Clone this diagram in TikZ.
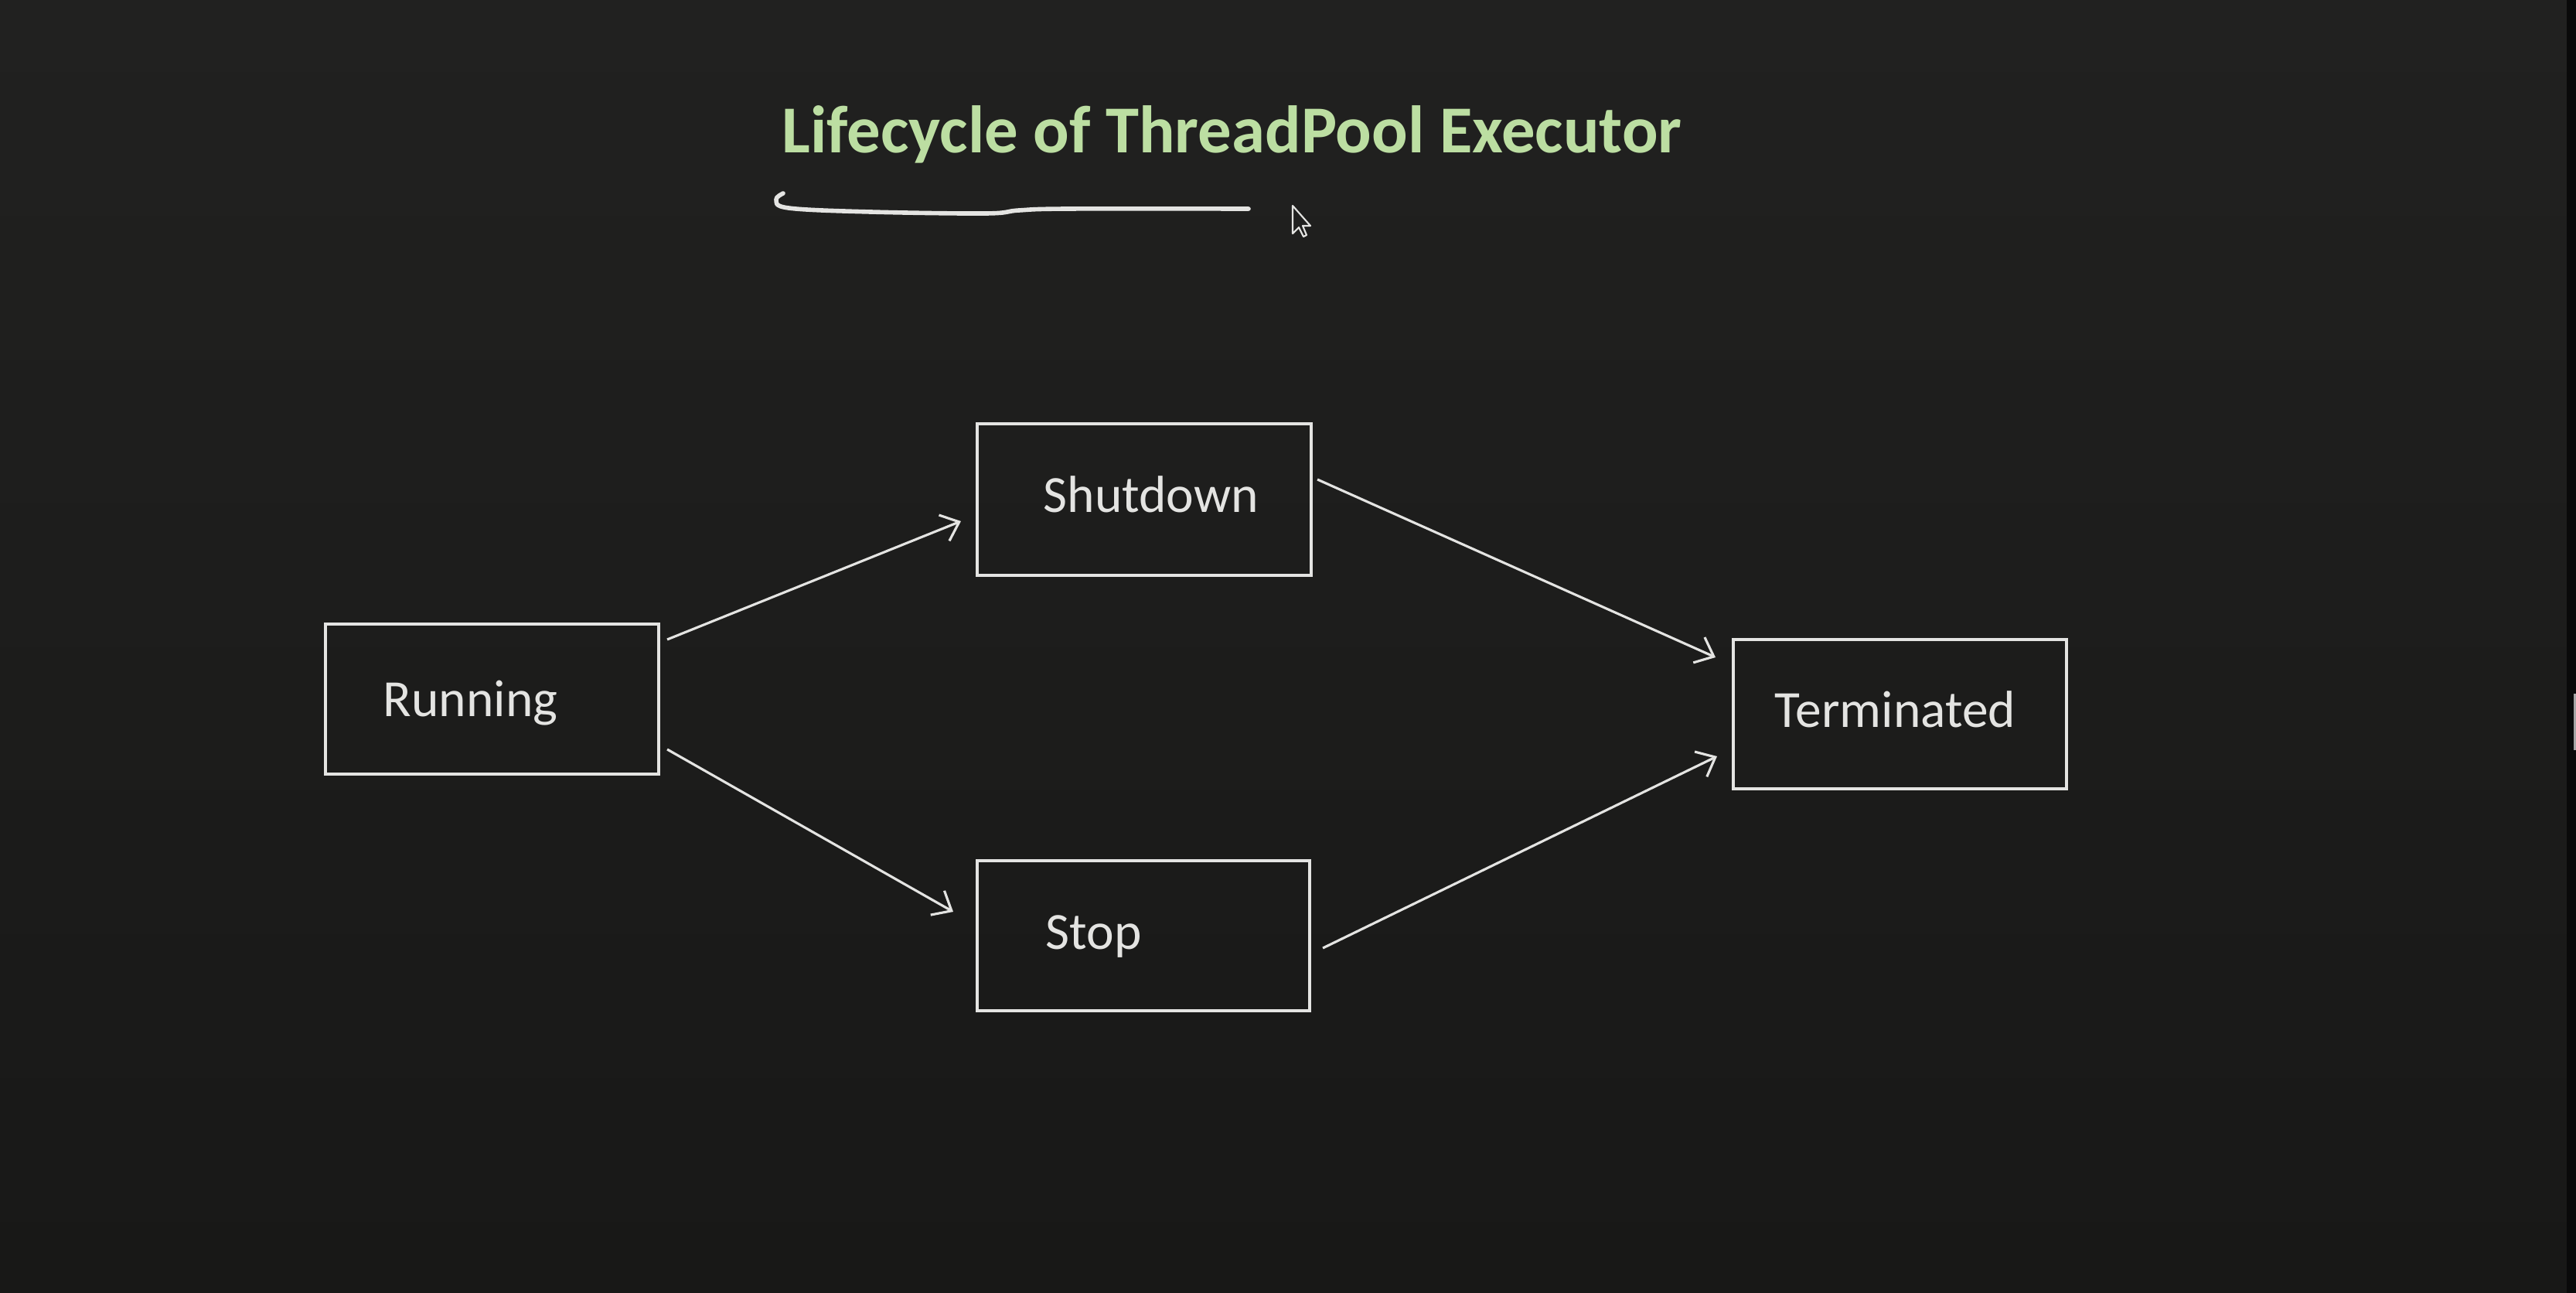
\documentclass[tikz,border=0pt]{standalone}
\usepackage{fontspec}
\setmainfont{Carlito}
\usetikzlibrary{arrows.meta}
\definecolor{bgtop}{RGB}{33,33,32}
\definecolor{bgbot}{RGB}{24,24,23}
\definecolor{ink}{RGB}{228,228,226}
\definecolor{titlegreen}{RGB}{188,222,162}
\tikzset{
  statebox/.style={draw=ink, line width=1.15pt, minimum width=4.31cm, minimum height=1.94cm, inner sep=0pt, fill=none},
  statelabel/.style={text=ink, font=\fontsize{19.2}{22}\selectfont, inner sep=0pt, anchor=base west},
  flow/.style={draw=ink, line width=0.9pt, -{Straight Barb[length=2.1mm,width=3.6mm,line width=0.9pt]}},
}
\begin{document}
\begin{tikzpicture}
\shade[top color=bgtop, bottom color=bgbot] (0,0) rectangle (33.32,-16.72);
\useasboundingbox (0,0) rectangle (33.32,-16.72);
% scrollbar hint at right edge
\fill[black!70!bgtop] (33.20,0) rectangle (33.32,-16.72);
\fill[gray!70] (33.29,-8.97) rectangle (33.32,-9.70);

% title
\node[text=titlegreen, font=\bfseries\fontsize{24.7}{28}\selectfont, inner sep=0pt, anchor=base west] (title) at (10.11,-1.98) {Lifecycle of ThreadPool Executor};

% freehand underline
\draw[ink, line width=1.6pt, line cap=round, line join=round]
  plot[smooth, tension=0.6] coordinates {(10.13,-2.50) (10.04,-2.58) (10.20,-2.69) (11.26,-2.74) (12.75,-2.76) (13.18,-2.72) (13.81,-2.70) (16.15,-2.70)};

% mouse pointer
\draw[ink, fill=bgtop, line width=0.6pt, line join=round]
  (16.72,-2.66) -- (16.72,-3.02) -- (16.80,-2.94) -- (16.86,-3.06) -- (16.90,-3.04) -- (16.85,-2.92) -- (16.95,-2.92) -- cycle;

% state boxes
\node[statebox] (run)  at (6.365,-9.04) {};
\node[statebox, minimum height=1.96cm, minimum width=4.32cm] (shut) at (14.80,-6.46) {};
\node[statebox, minimum width=4.30cm] (stop) at (14.79,-12.10) {};
\node[statebox, minimum height=1.93cm] (term) at (24.575,-9.235) {};

% labels
\node[statelabel] (runt)  at ([xshift=0.76cm, yshift=-0.22cm]run.west)  {Running};
\node[statelabel] (shutt) at ([xshift=0.87cm, yshift=-0.16cm]shut.west) {Shutdown};
\node[statelabel] (stopt) at ([xshift=0.90cm, yshift=-0.17cm]stop.west) {Stop};
\node[statelabel] (termt) at ([xshift=0.55cm, yshift=-0.17cm]term.west) {Terminated};

% transitions
\draw[flow] ([shift={(0.09,-0.22)}]run.north east) -- ([shift={(-0.19,-0.28)}]shut.west);
\draw[flow] ([shift={(0.09,0.34)}]run.south east) -- ([shift={(-0.29,0.31)}]stop.west);
\draw[flow] ([shift={(0.06,0.26)}]shut.east) -- ([shift={(-0.21,0.735)}]term.west);
\draw[flow] ([shift={(0.15,-0.16)}]stop.east) -- ([shift={(-0.19,-0.545)}]term.west);
\end{tikzpicture}
\end{document}
